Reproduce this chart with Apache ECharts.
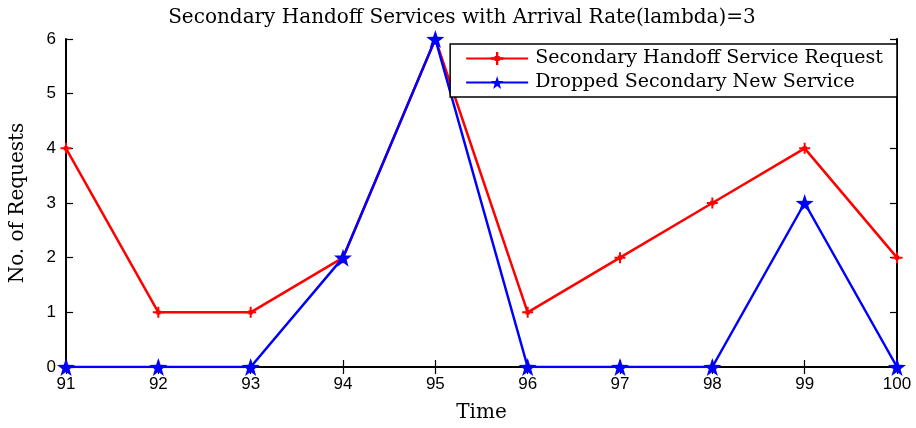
<!DOCTYPE html>
<html>
<head>
<meta charset="utf-8">
<script src="https://cdn.jsdelivr.net/npm/echarts@6/dist/echarts.min.js"></script>
<style>
html,body{margin:0;padding:0;background:#fff;}
#chart{width:916px;height:428px;}
</style>
</head>
<body>
<div id="chart"></div>
<script>
// Time steps and request counts
const timeSteps = ['91', '92', '93', '94', '95', '96', '97', '98', '99', '100'];
const handoffRequests = [4, 1, 1, 2, 6, 1, 2, 3, 4, 2];
const droppedNew = [0, 0, 0, 2, 6, 0, 0, 0, 3, 0];
const yTicks = [0, 1, 2, 3, 4, 5, 6];

const serifFont = '"DejaVu Serif", serif';
const sansFont = '"Liberation Sans", Arial, sans-serif';

// marker shapes
const asterisk = 'path://M-0.9,-5 L0.9,-5 L0.9,-0.9 L5,-0.9 L5,0.9 L0.9,0.9 L0.9,5 L-0.9,5 L-0.9,0.9 L-5,0.9 L-5,-0.9 L-0.9,-0.9 Z M-2,-2 L2,-2 L2,2 L-2,2 Z';
const star = 'path://M0,-10 L2.35,-3.24 L9.51,-3.09 L3.8,1.24 L5.88,8.09 L0,4 L-5.88,8.09 L-3.8,1.24 L-9.51,-3.09 L-2.35,-3.24 Z';

const chart = echarts.init(document.getElementById('chart'));
const axisLine = { show: true, lineStyle: { color: '#000', width: 2 } };
const tick = { show: true, inside: true, length: 7, lineStyle: { color: '#000', width: 1.2 } };

chart.setOption({
  animation: false,
  backgroundColor: '#fff',
  title: {
    text: 'Secondary Handoff Services with Arrival Rate(lambda)=3',
    left: 457, top: 3, textAlign: 'center',
    textStyle: { fontFamily: serifFont, fontSize: 20, fontWeight: 'normal', color: '#000' }
  },
  grid: { left: 64, right: 19, top: 39, bottom: 61 },
  legend: {
    right: 19, top: 44,
    orient: 'vertical',
    backgroundColor: '#fff',
    borderColor: '#000', borderWidth: 1.5, borderRadius: 0,
    padding: [5, 14, 5, 15],
    itemGap: 5,
    itemWidth: 62, itemHeight: 16,
    textStyle: { fontFamily: serifFont, fontSize: 19, color: '#000', padding: [0, 0, 0, 2] },
    data: [
      'Secondary Handoff Service Request',
      'Dropped Secondary New Service'
    ]
  },
  xAxis: [
    {
      type: 'category', data: timeSteps, boundaryGap: false,
      name: 'Time', nameLocation: 'middle', nameGap: 36,
      nameTextStyle: { fontFamily: serifFont, fontSize: 20, color: '#000' },
      axisLine, axisTick: { ...tick, alignWithLabel: true },
      axisLabel: { fontFamily: sansFont, fontSize: 17, color: '#000', margin: 9 },
      splitLine: { show: false }
    },
    {
      type: 'category', data: timeSteps, boundaryGap: false, position: 'top',
      axisLine, axisTick: tick, axisLabel: { show: false }, splitLine: { show: false }
    }
  ],
  yAxis: [
    {
      type: 'value', min: yTicks[0], max: yTicks[yTicks.length - 1], interval: 1,
      name: 'No. of Requests', nameLocation: 'middle', nameGap: 38,
      nameTextStyle: { fontFamily: serifFont, fontSize: 20, color: '#000' },
      axisLine, axisTick: tick,
      axisLabel: { fontFamily: sansFont, fontSize: 17, color: '#000', margin: 10 },
      splitLine: { show: false }
    },
    {
      type: 'value', min: yTicks[0], max: yTicks[yTicks.length - 1], interval: 1, position: 'right',
      axisLine, axisTick: tick, axisLabel: { show: false }, splitLine: { show: false }
    }
  ],
  series: [
    {
      name: 'Secondary Handoff Service Request',
      type: 'line', data: handoffRequests,
      symbol: asterisk, symbolSize: 11,
      lineStyle: { color: '#ff0000', width: 2.5 },
      itemStyle: { color: '#ff0000' },
      z: 2
    },
    {
      name: 'Dropped Secondary New Service',
      type: 'line', data: droppedNew,
      symbol: star, symbolSize: 18,
      lineStyle: { color: '#0000ff', width: 2.5 },
      itemStyle: { color: '#0000ff' },
      z: 3
    }
  ]
});
</script>
</body>
</html>
